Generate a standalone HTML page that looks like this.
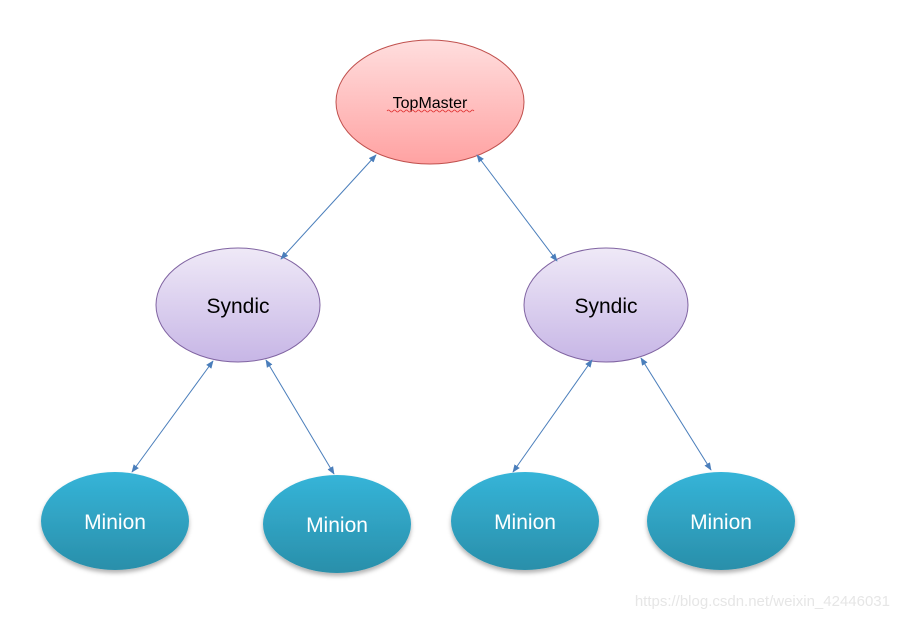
<!DOCTYPE html>
<html><head><meta charset="utf-8"><style>body{margin:0;background:#fff}svg{display:block}</style></head>
<body>
<svg width="898" height="618" viewBox="0 0 898 618" xmlns="http://www.w3.org/2000/svg" font-family="'Liberation Sans', sans-serif">
<defs>
<linearGradient id="r" x1="0" y1="0" x2="0" y2="1"><stop offset="0" stop-color="#ffdede"/><stop offset="1" stop-color="#ffa2a2"/></linearGradient>
<linearGradient id="p" x1="0" y1="0" x2="0" y2="1"><stop offset="0" stop-color="#efe9f7"/><stop offset="1" stop-color="#c7b6e6"/></linearGradient>
<linearGradient id="b" x1="0" y1="0" x2="0" y2="1"><stop offset="0" stop-color="#35b4d8"/><stop offset="1" stop-color="#2a8faa"/></linearGradient>
<filter id="s" x="-20%" y="-20%" width="140%" height="150%"><feDropShadow dx="0" dy="3" stdDeviation="2" flood-color="#000" flood-opacity="0.3"/></filter>
<marker id="a" viewBox="0 0 10 10" refX="9" refY="5" markerWidth="8" markerHeight="8" orient="auto-start-reverse"><path d="M0,1 L10,5 L0,9 z" fill="#4a7ebb"/></marker>
</defs>
<ellipse cx="430" cy="102" rx="94" ry="62" fill="url(#r)" stroke="#c0504d" stroke-width="1"/>
<text x="430" y="108" font-size="16" text-anchor="middle" fill="#000">TopMaster</text>
<path d="M387,111 q1.5,-2 3,0 t3,0 t3,0 t3,0 t3,0 t3,0 t3,0 t3,0 t3,0 t3,0 t3,0 t3,0 t3,0 t3,0 t3,0 t3,0 t3,0 t3,0 t3,0 t3,0 t3,0 t3,0 t3,0 t3,0 t3,0 t3,0 t3,0 t3,0 t3,0" fill="none" stroke="#e03030" stroke-width="0.8"/>
<g fill="url(#p)" stroke="#8064a2" stroke-width="1">
<ellipse cx="238" cy="305" rx="82" ry="57"/>
<ellipse cx="606" cy="305" rx="82" ry="57"/>
</g>
<g font-size="21" text-anchor="middle" fill="#000">
<text x="238" y="313">Syndic</text><text x="606" y="313">Syndic</text>
</g>
<g fill="url(#b)" filter="url(#s)">
<ellipse cx="115" cy="521" rx="74" ry="49"/>
<ellipse cx="337" cy="524" rx="74" ry="49"/>
<ellipse cx="525" cy="521" rx="74" ry="49"/>
<ellipse cx="721" cy="521" rx="74" ry="49"/>
</g>
<g font-size="21" text-anchor="middle" fill="#fff">
<text x="115" y="529">Minion</text><text x="337" y="532">Minion</text>
<text x="525" y="529">Minion</text><text x="721" y="529">Minion</text>
</g>
<g stroke="#4a7ebb" stroke-width="1" marker-start="url(#a)" marker-end="url(#a)">
<line x1="376" y1="155" x2="281" y2="259"/>
<line x1="477" y1="155" x2="557" y2="261"/>
<line x1="213" y1="361" x2="132" y2="472"/>
<line x1="266" y1="360" x2="334" y2="474"/>
<line x1="592" y1="360" x2="513" y2="472"/>
<line x1="641" y1="358" x2="711" y2="470"/>
</g>
<text x="890" y="606" font-size="15" text-anchor="end" fill="#e6e6e6">https://blog.csdn.net/weixin_42446031</text>
</svg>
</body></html>
